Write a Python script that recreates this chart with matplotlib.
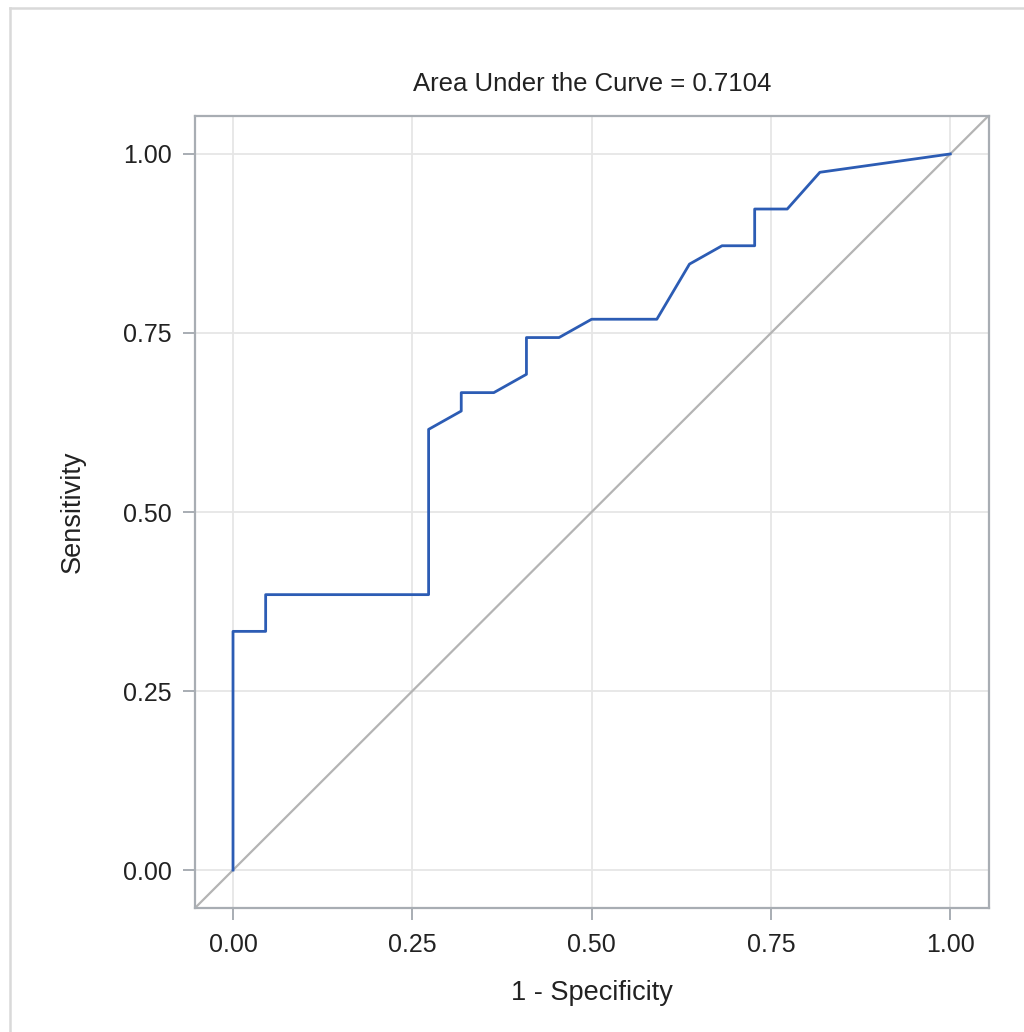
import matplotlib
matplotlib.use("Agg")
import matplotlib.pyplot as plt
from matplotlib.lines import Line2D

plt.rcParams['font.family'] = ['Liberation Sans', 'DejaVu Sans']

# ROC curve data (1 - specificity, sensitivity)
fpr = [0.0, 0.0, 0.0455, 0.0455, 0.2727, 0.2727, 0.3182, 0.3182, 0.3636,
       0.4091, 0.4091, 0.4545, 0.5, 0.5909, 0.6364, 0.6818, 0.7273, 0.7273,
       0.7727, 0.8182, 1.0]
tpr = [0.0, 0.3333, 0.3333, 0.3846, 0.3846, 0.6154, 0.6410, 0.6667, 0.6667,
       0.6923, 0.7436, 0.7436, 0.7692, 0.7692, 0.8462, 0.8718, 0.8718, 0.9231,
       0.9231, 0.9744, 1.0]
diag = [-0.06, 1.06]
ticks = [0.0, 0.25, 0.5, 0.75, 1.0]
tick_labels = ["0.00", "0.25", "0.50", "0.75", "1.00"]
title = "Area Under the Curve = 0.7104"
xlabel = "1 - Specificity"
ylabel = "Sensitivity"

W, H = 1024, 1032
fig = plt.figure(figsize=(W / 100, H / 100), dpi=100)
ax = fig.add_axes([195 / W, 1 - 908 / H, (989 - 195) / W, (908 - 116) / H])

ax.set_xlim(-0.053, 1.054)
ax.set_ylim(-0.053, 1.053)

spine_c = "#a8adb3"
for s in ax.spines.values():
    s.set_color(spine_c)
    s.set_linewidth(1.6)

ax.set_xticks(ticks)
ax.set_xticklabels(tick_labels)
ax.set_yticks(ticks)
ax.set_yticklabels(tick_labels)
ax.tick_params(axis='both', direction='out', length=8.5, width=1.4,
               color=spine_c, labelsize=18, labelcolor="#222222")
ax.tick_params(axis='x', pad=9.5)
ax.tick_params(axis='y', pad=8.5)
ax.grid(True, color="#e6e6e6", linewidth=1.3)
ax.set_axisbelow(True)

ax.plot(diag, diag, color="#b4b4b4", linewidth=1.6, zorder=2, clip_on=True)
ax.plot(fpr, tpr, color="#2c5cb4", linewidth=2.0, zorder=3)

fig.text(592 / W, 1 - 84 / H, title, ha='center', va='center',
         fontsize=18.5, color="#222222")
fig.text(592 / W, 1 - 993 / H, xlabel, ha='center', va='center',
         fontsize=19.5, color="#222222")
fig.text(73 / W, 1 - 512 / H, ylabel, ha='center', va='center',
         rotation=90, fontsize=19.5, color="#222222")

# outer light-gray frame
fig.add_artist(Line2D([10 / W, 10 / W], [0, 1 - 8 / H], transform=fig.transFigure,
                      color="#d9d9d9", linewidth=1.8))
fig.add_artist(Line2D([10 / W, 1.0], [1 - 8 / H, 1 - 8 / H], transform=fig.transFigure,
                      color="#d9d9d9", linewidth=1.8))

fig.savefig("out.png", dpi=100, facecolor="white")
